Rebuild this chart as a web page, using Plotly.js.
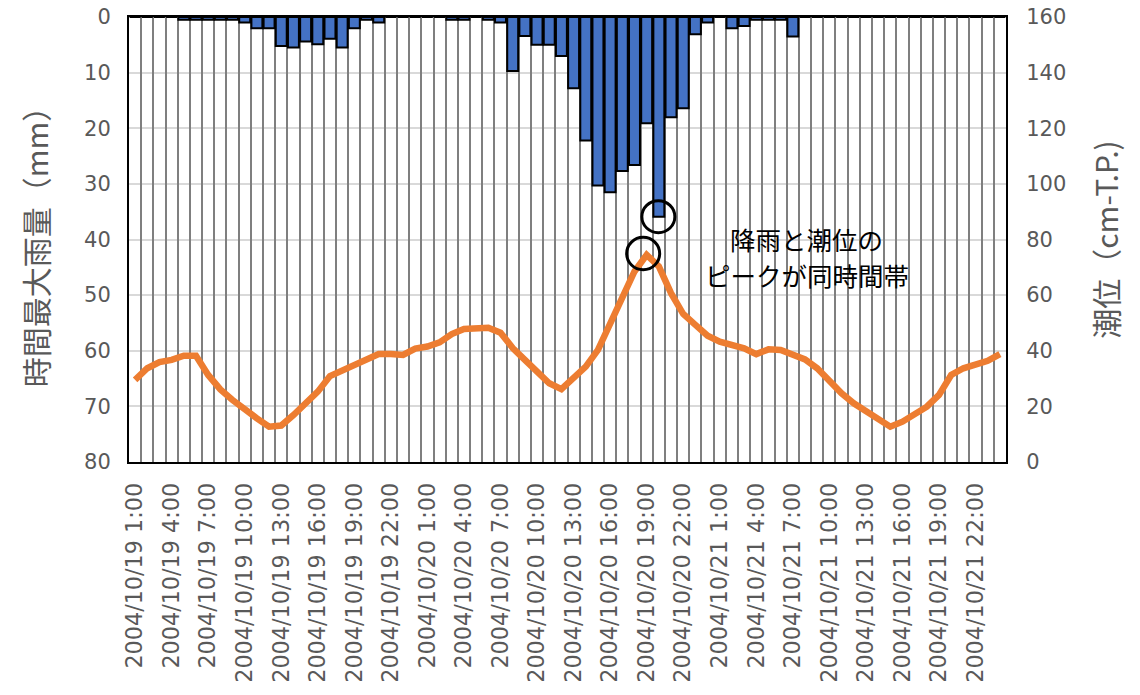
<!DOCTYPE html>
<html>
<head>
<meta charset="utf-8">
<script src="https://cdn.plot.ly/plotly-3.0.1.min.js"></script>
<style>html,body{margin:0;padding:0;background:#fff;}#chart{width:1140px;height:695px;}</style>
</head>
<body>
<div id="chart"></div>
<script>
const categories = [
"2004/10/19 1:00","2004/10/19 2:00","2004/10/19 3:00","2004/10/19 4:00","2004/10/19 5:00","2004/10/19 6:00",
"2004/10/19 7:00","2004/10/19 8:00","2004/10/19 9:00","2004/10/19 10:00","2004/10/19 11:00","2004/10/19 12:00",
"2004/10/19 13:00","2004/10/19 14:00","2004/10/19 15:00","2004/10/19 16:00","2004/10/19 17:00","2004/10/19 18:00",
"2004/10/19 19:00","2004/10/19 20:00","2004/10/19 21:00","2004/10/19 22:00","2004/10/19 23:00","2004/10/20 0:00",
"2004/10/20 1:00","2004/10/20 2:00","2004/10/20 3:00","2004/10/20 4:00","2004/10/20 5:00","2004/10/20 6:00",
"2004/10/20 7:00","2004/10/20 8:00","2004/10/20 9:00","2004/10/20 10:00","2004/10/20 11:00","2004/10/20 12:00",
"2004/10/20 13:00","2004/10/20 14:00","2004/10/20 15:00","2004/10/20 16:00","2004/10/20 17:00","2004/10/20 18:00",
"2004/10/20 19:00","2004/10/20 20:00","2004/10/20 21:00","2004/10/20 22:00","2004/10/20 23:00","2004/10/21 0:00",
"2004/10/21 1:00","2004/10/21 2:00","2004/10/21 3:00","2004/10/21 4:00","2004/10/21 5:00","2004/10/21 6:00",
"2004/10/21 7:00","2004/10/21 8:00","2004/10/21 9:00","2004/10/21 10:00","2004/10/21 11:00","2004/10/21 12:00",
"2004/10/21 13:00","2004/10/21 14:00","2004/10/21 15:00","2004/10/21 16:00","2004/10/21 17:00","2004/10/21 18:00",
"2004/10/21 19:00","2004/10/21 20:00","2004/10/21 21:00","2004/10/21 22:00","2004/10/21 23:00","2004/10/22 0:00"
];

const rainfall = [
0,0,0,0,0.5,0.5,0.5,0.5,0.5,1,2,2,
5.2,5.5,4.4,4.9,3.9,5.5,2,0.5,1,0,0,0,
0,0,0.5,0.5,0,0.5,1,9.7,3.4,5,5,7,
12.8,22.2,30.3,31.5,27.7,26.6,19.1,35.9,18,16.4,3.1,1,
0,2,1.6,0.5,0.5,0.5,3.5,0,0,0,0,0,
0,0,0,0,0,0,0,0,0,0,0,0
];

const tide = [
29.5,33.7,35.9,36.7,38.2,38.2,31.3,26.1,22.3,18.7,15.7,12.7,
13.1,16.9,21.1,25.3,30.9,32.8,34.9,36.7,38.8,38.8,38.5,40.8,
41.5,43,46,47.8,48,48.3,46.5,41,36.7,32.2,28.3,26.2,
30.1,34.3,40.3,49.3,58.9,68.5,74.5,70.3,60.7,53.2,49.3,45.4,
43.3,42.1,40.9,38.8,40.5,40.3,38.8,36.9,33.7,28.9,24.7,21.1,
18.1,15.1,12.7,14.5,16.9,19.9,24.1,31.3,33.7,35.3,36.4,38.8
];

const tickLabels = [
"2004/10/19 1:00","2004/10/19 4:00","2004/10/19 7:00","2004/10/19 10:00","2004/10/19 13:00","2004/10/19 16:00",
"2004/10/19 19:00","2004/10/19 22:00","2004/10/20 1:00","2004/10/20 4:00","2004/10/20 7:00","2004/10/20 10:00",
"2004/10/20 13:00","2004/10/20 16:00","2004/10/20 19:00","2004/10/20 22:00","2004/10/21 1:00","2004/10/21 4:00",
"2004/10/21 7:00","2004/10/21 10:00","2004/10/21 13:00","2004/10/21 16:00","2004/10/21 19:00","2004/10/21 22:00"
];

const leftTitle = "時間最大雨量（mm）";
const rightTitle = "潮位（cm-T.P.)";
const noteLines = ["降雨と潮位の", "ピークが同時間帯"];
const rainPeakIdx = 43;
const tidePeakIdx = 42;

const titleFont = {family: "Noto Sans CJK JP", size: 30, color: "#595959"};
const noteFont = {family: "Noto Sans CJK JP", size: 25.5, color: "#000000"};

const traces = [
  {
    type: "bar", x: categories, y: rainfall, xaxis: "x", yaxis: "y",
    marker: {color: "#4472C4", line: {color: "#000000", width: 2}},
    hoverinfo: "skip", showlegend: false
  },
  {
    // carrier for the boundary-gridline axis (draws nothing)
    type: "scatter", mode: "none", x: [0], y: [rainfall[0]], xaxis: "x2", yaxis: "y",
    hoverinfo: "skip", showlegend: false
  },
  {
    type: "scatter", mode: "lines", x: categories, y: tide, xaxis: "x", yaxis: "y2",
    line: {color: "#ED7D31", width: 6.5},
    hoverinfo: "skip", showlegend: false
  }
];

const layout = {
  width: 1140, height: 695,
  margin: {l: 129, r: 134, t: 17, b: 233, pad: 0},
  paper_bgcolor: "#ffffff", plot_bgcolor: "#ffffff",
  bargap: 0.1,
  showlegend: false,
  font: {family: "DejaVu Sans", color: "#595959"},
  xaxis: {
    type: "category", range: [-0.5, categories.length - 0.5],
    tickmode: "array", tickvals: tickLabels, ticktext: tickLabels,
    tickangle: -90, tickfont: {family: "DejaVu Sans", size: 22.3, color: "#595959"},
    ticks: "", ticklabelstandoff: 10,
    showgrid: false, zeroline: false,
    showline: true, mirror: true, linecolor: "#000000", linewidth: 2
  },
  xaxis2: {
    overlaying: "x", anchor: "y", type: "linear",
    range: [-0.5, categories.length - 0.5],
    tickmode: "linear", tick0: -0.5, dtick: 1,
    showgrid: true, gridcolor: "#7f7f7f", gridwidth: 2,
    showticklabels: false, ticks: "", zeroline: false, showline: false
  },
  yaxis: {
    range: [80, 0], tickmode: "linear", tick0: 0, dtick: 10,
    tickfont: {family: "DejaVu Sans", size: 21, color: "#595959"},
    ticks: "", ticklabelstandoff: 12,
    showgrid: true, gridcolor: "#d9d9d9", gridwidth: 2, zeroline: false,
    showline: true, mirror: true, linecolor: "#000000", linewidth: 2,
    title: {text: leftTitle, font: titleFont, standoff: 27}
  },
  yaxis2: {
    overlaying: "y", side: "right", anchor: "x",
    range: [0, 160], tickmode: "linear", tick0: 0, dtick: 20,
    tickfont: {family: "DejaVu Sans", size: 21, color: "#595959"},
    ticks: "", ticklabelstandoff: 14,
    showgrid: false, zeroline: false,
    showline: true, linecolor: "#000000", linewidth: 2,
    title: {text: rightTitle, font: titleFont, standoff: 32}
  },
  annotations: [
    {
      text: noteLines[0], xref: "paper", yref: "paper", x: 0.773, y: 0.461,
      xanchor: "center", yanchor: "middle", yshift: 18, showarrow: false,
      borderpad: 0, font: noteFont
    },
    {
      text: noteLines[1], xref: "paper", yref: "paper", x: 0.773, y: 0.461,
      xanchor: "center", yanchor: "middle", yshift: -18, showarrow: false,
      borderpad: 0, font: noteFont
    }
  ],
  shapes: [
    {
      type: "circle", xref: "x", yref: "y", xsizemode: "pixel", ysizemode: "pixel",
      xanchor: categories[rainPeakIdx], yanchor: rainfall[rainPeakIdx],
      x0: -17, x1: 16, y0: -16, y1: 16,
      line: {color: "#000000", width: 3}
    },
    {
      type: "circle", xref: "x", yref: "y2", xsizemode: "pixel", ysizemode: "pixel",
      xanchor: categories[tidePeakIdx], yanchor: tide[tidePeakIdx],
      x0: -20, x1: 13, y0: -15, y1: 17.5,
      line: {color: "#000000", width: 3}
    }
  ]
};

Plotly.newPlot("chart", traces, layout, {staticPlot: true, displayModeBar: false});
</script>
</body>
</html>
